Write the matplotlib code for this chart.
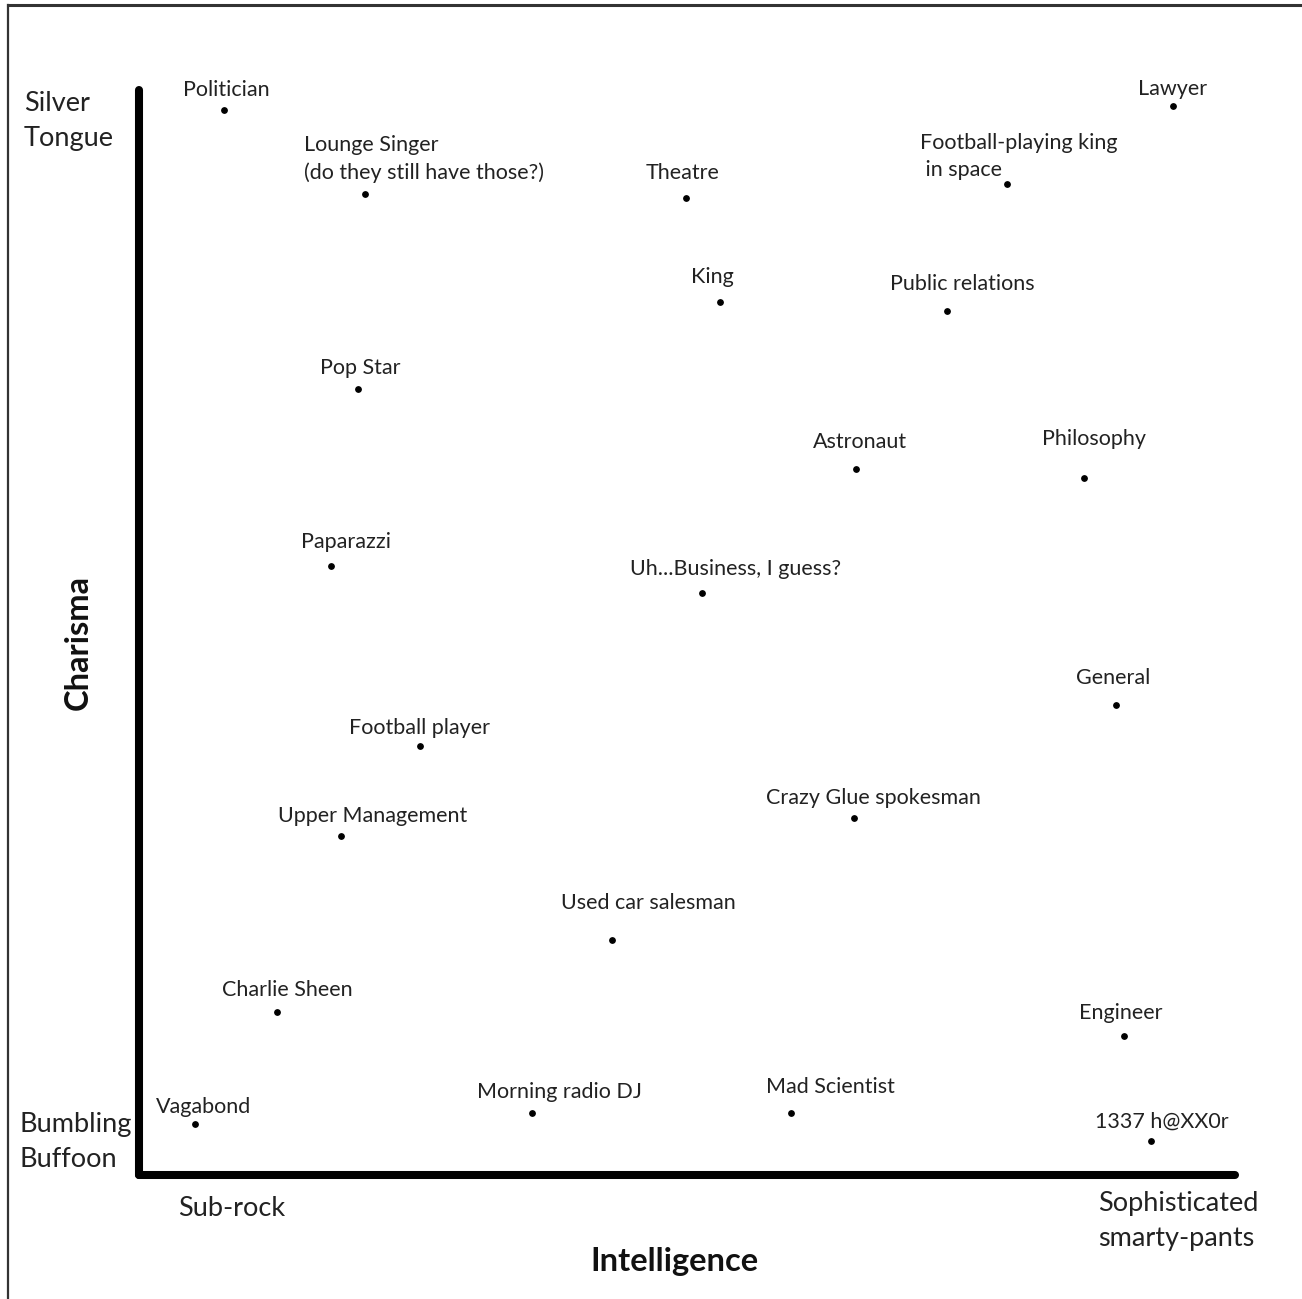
import numpy as np
import matplotlib
matplotlib.use("Agg")
import matplotlib.pyplot as plt
from matplotlib.lines import Line2D

plt.rcParams['font.family'] = ['Lato', 'DejaVu Sans']

# jobs on the intelligence (x) / charisma (y) plane, both 0-100
jobs = ["Politician", "Lounge Singer\n(do they still have those?)", "Theatre", "Lawyer",
        "Football-playing king\n in space", "King", "Public relations", "Pop Star",
        "Astronaut", "Philosophy", "Paparazzi", "Uh...Business, I guess?", "General",
        "Football player", "Crazy Glue spokesman", "Upper Management", "Used car salesman",
        "Charlie Sheen", "Engineer", "Vagabond", "Morning radio DJ", "Mad Scientist",
        "1337 h@XX0r"]
intelligence = [7.8, 20.6, 49.9, 94.3, 79.2, 53.0, 73.7, 20.0, 65.4, 86.2, 17.5, 51.4, 89.1,
                25.6, 65.2, 18.4, 43.2, 12.6, 89.9, 5.1, 35.9, 59.5, 92.3]
charisma = [98.2, 90.4, 90.0, 98.5, 91.3, 80.5, 79.6, 72.4, 65.1, 64.2, 56.1, 53.6, 43.3,
            39.5, 32.9, 31.2, 21.7, 15.0, 12.8, 4.7, 5.7, 5.7, 3.1]

# label offsets from the dot, in pixels (layout only)
label_dx = [2, -61, -3, 0, -87, -8, 16, 2, 4, 10, 15, 33, -2, 0, 20, 32, 36, 10, -4, 9, 27, 39, 11]
label_dy = [20, 35, 25, 17, 28, 25, 27, 21, 27, 39, 24, 24, 27, 18, 20, 20, 37, 22, 23, 17, 21, 26, 20]

W, H = 1302, 1299
fig = plt.figure(figsize=(W / 100, H / 100), dpi=100)

# outer frame (left and top edges only visible)
fig.add_artist(Line2D([8 / W, 8 / W], [0, 1 - 5 / H], color="#333333", lw=1.6,
                      transform=fig.transFigure))
fig.add_artist(Line2D([8 / W, 1], [1 - 5 / H, 1 - 5 / H], color="#333333", lw=2.2,
                      transform=fig.transFigure))

x0, x1, ytop, ybot = 139, 1235, 90, 1175
ax = fig.add_axes([x0 / W, (H - ybot) / H, (x1 - x0) / W, (ybot - ytop) / H])
ax.set_xlim(0, 100)
ax.set_ylim(0, 100)
ax.set_facecolor("none")
for s in ["top", "right"]:
    ax.spines[s].set_visible(False)
for s in ["left", "bottom"]:
    ax.spines[s].set_linewidth(5.8)
    ax.spines[s].set_capstyle("round")
ax.set_xticks([])
ax.set_yticks([])

ax.scatter(intelligence, charisma, s=15, color="black", zorder=3, clip_on=False)

for name, x, y, dx, dy in zip(jobs, intelligence, charisma, label_dx, label_dy):
    multi = "\n" in name
    ax.annotate(name, (x, y), xytext=(dx, dy), textcoords="offset pixels",
                ha="left" if multi else "center", va="center", fontsize=15.5,
                color="#222222", linespacing=1.42, annotation_clip=False)

big = dict(fontsize=19.5, color="#222222", transform=fig.transFigure, linespacing=1.5)
fig.text(24 / W, 1 - 121 / H, "Silver\nTongue", ha="left", va="center", **big)
fig.text(19 / W, 1 - 1142 / H, "Bumbling\nBuffoon", ha="left", va="center", **big)
fig.text(178 / W, 1 - 1209 / H, "Sub-rock", ha="left", va="center", **big)
fig.text(1098 / W, 1 - 1221 / H, "Sophisticated\nsmarty-pants", ha="left", va="center", **big)

fig.text(674 / W, 1 - 1262 / H, "Intelligence", ha="center", va="center", fontsize=23.5,
         fontweight="bold", color="#111111")
fig.text(78 / W, 1 - 642 / H, "Charisma", ha="center", va="center", fontsize=23.5,
         fontweight="bold", color="#111111", rotation=90)

fig.savefig("out.png", dpi=100)
